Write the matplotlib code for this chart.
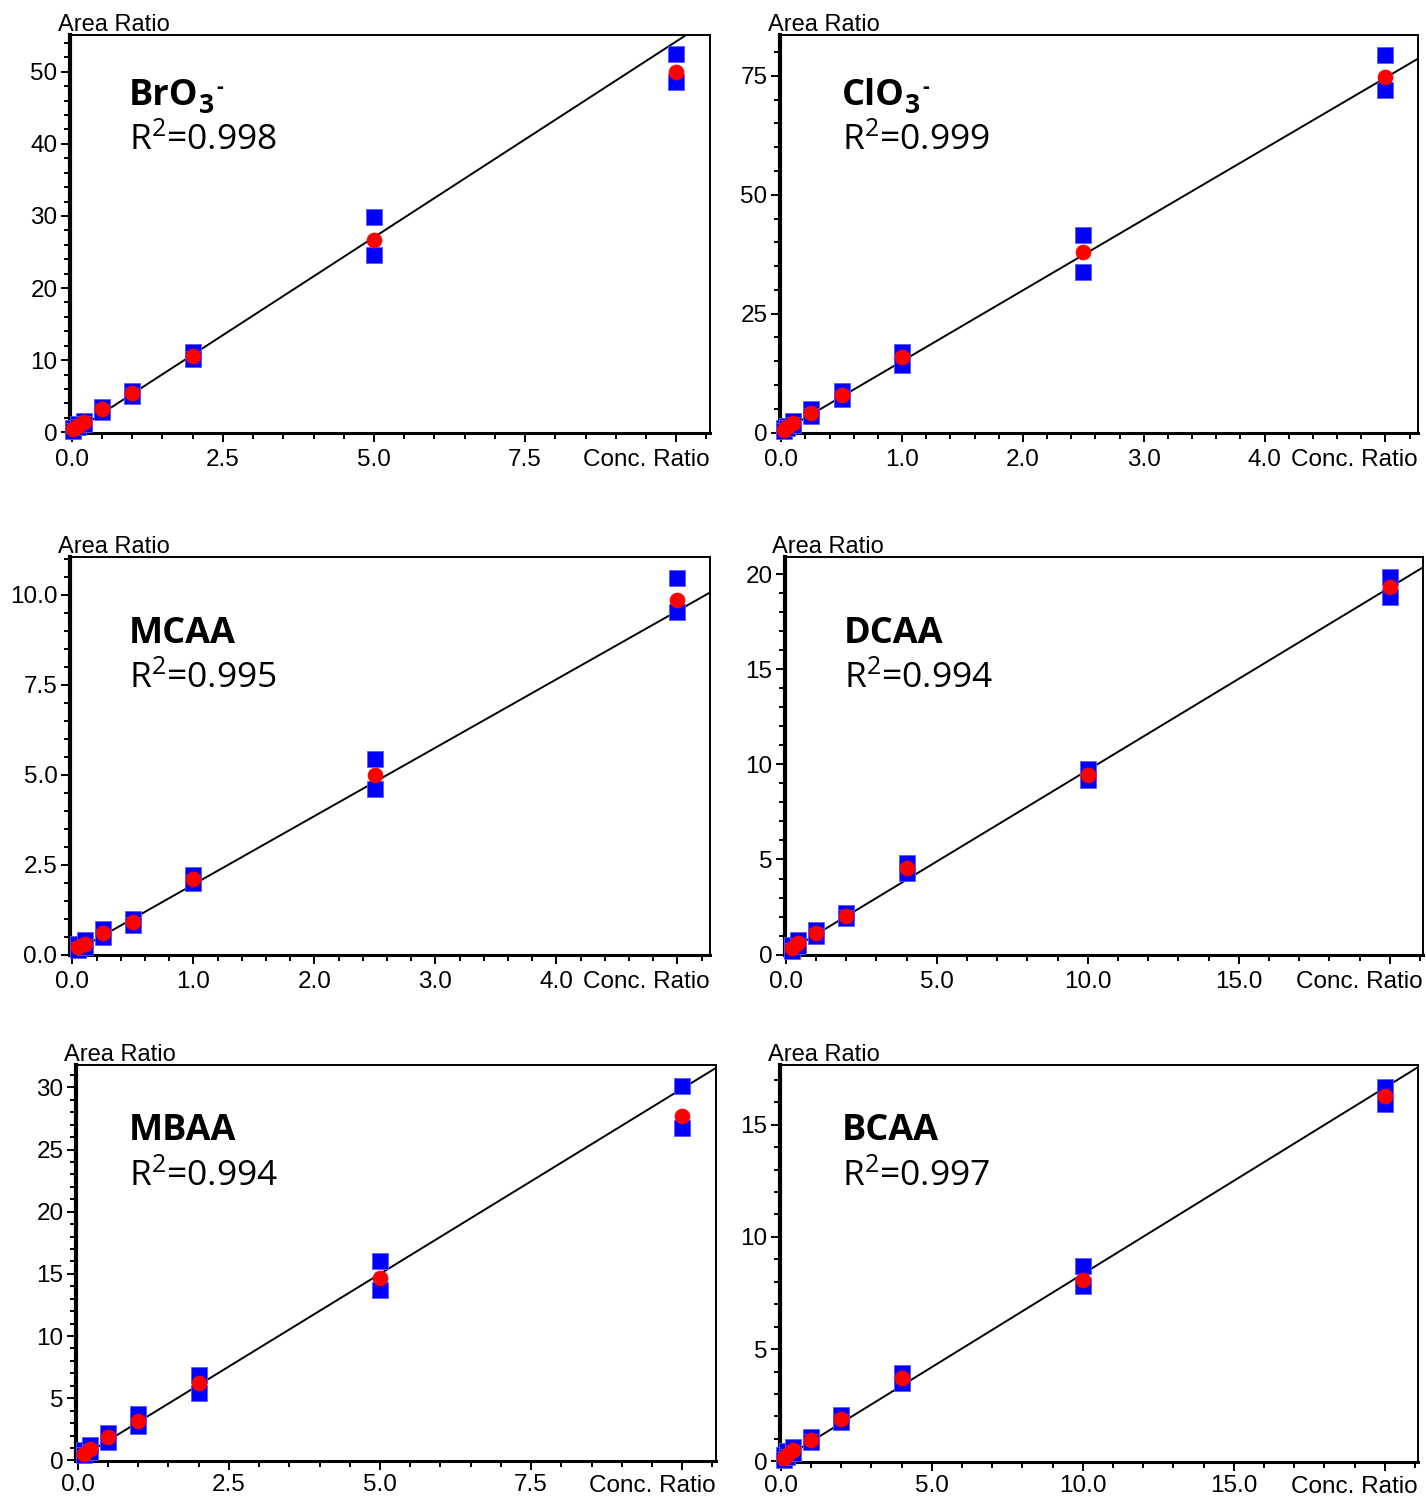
import matplotlib
matplotlib.use("Agg")
import matplotlib.pyplot as plt
from matplotlib.ticker import MultipleLocator, FixedLocator, FixedFormatter

plt.rcParams['font.family'] = ['Liberation Sans', 'DejaVu Sans']
plt.rcParams['mathtext.fontset'] = 'custom'
plt.rcParams['mathtext.rm'] = 'Open Sans'
plt.rcParams['mathtext.bf'] = 'Open Sans:bold'
plt.rcParams['mathtext.it'] = 'Open Sans:italic'

# ---------------- data ----------------
name_base = ["BrO", "ClO", "MCAA", "DCAA", "MBAA", "BCAA"]
name_sub = ["3", "3", "", "", "", ""]
name_sup = ["-", "-", "", "", "", ""]
r2_labels = ["0.998", "0.999", "0.995", "0.994", "0.994", "0.997"]

bro3_x = [0.02, 0.1, 0.2, 0.5, 1.0, 2.0, 5.0, 10.0]
bro3_mean = [0.4, 0.9, 1.4, 3.2, 5.4, 10.6, 26.7, 49.9]
bro3_hi = [0.6, 1.1, 1.6, 3.5, 5.7, 11.1, 29.8, 52.4]
bro3_lo = [0.2, 0.7, 1.2, 2.8, 5.1, 10.2, 24.6, 48.6]

clo3_x = [0.025, 0.05, 0.1, 0.25, 0.5, 1.0, 2.5, 5.0]
clo3_mean = [0.6, 1.1, 1.9, 4.2, 7.8, 15.8, 38.0, 74.8]
clo3_hi = [0.9, 1.4, 2.4, 5.0, 8.7, 17.0, 41.5, 79.3]
clo3_lo = [0.4, 0.9, 1.5, 3.5, 7.0, 14.3, 33.8, 72.0]

mcaa_x = [0.05, 0.1, 0.25, 0.5, 1.0, 2.5, 5.0]
mcaa_mean = [0.2, 0.3, 0.6, 0.92, 2.1, 5.0, 9.86]
mcaa_hi = [0.3, 0.4, 0.7, 1.0, 2.2, 5.45, 10.47]
mcaa_lo = [0.12, 0.22, 0.5, 0.82, 1.98, 4.6, 9.53]

dcaa_x = [0.2, 0.4, 1.0, 2.0, 4.0, 10.0, 20.0]
dcaa_mean = [0.35, 0.6, 1.15, 2.05, 4.55, 9.45, 19.3]
dcaa_hi = [0.5, 0.75, 1.3, 2.2, 4.8, 9.75, 19.85]
dcaa_lo = [0.2, 0.45, 1.0, 1.9, 4.3, 9.2, 18.8]

mbaa_x = [0.1, 0.2, 0.5, 1.0, 2.0, 5.0, 10.0]
mbaa_mean = [0.55, 0.9, 1.85, 3.2, 6.2, 14.7, 27.7]
mbaa_hi = [0.8, 1.2, 2.2, 3.7, 6.9, 16.0, 30.1]
mbaa_lo = [0.4, 0.7, 1.5, 2.8, 5.4, 13.7, 26.7]

bcaa_x = [0.1, 0.2, 0.4, 1.0, 2.0, 4.0, 10.0, 20.0]
bcaa_mean = [0.13, 0.3, 0.5, 0.95, 1.9, 3.72, 8.1, 16.3]
bcaa_hi = [0.3, 0.45, 0.65, 1.1, 2.05, 3.95, 8.7, 16.7]
bcaa_lo = [0.05, 0.2, 0.35, 0.85, 1.75, 3.5, 7.8, 15.9]

fit_slope = [5.43, 14.9, 1.9, 0.96, 2.98, 0.83]
fit_intercept = [-0.1, 0.1, 0.05, 0.1, 0.1, 0.05]

xtick_vals = [[0, 2.5, 5.0, 7.5, 10.0], [0, 1, 2, 3, 4, 5], [0, 1, 2, 3, 4, 5],
              [0, 5, 10, 15, 20], [0, 2.5, 5.0, 7.5, 10.0], [0, 5, 10, 15, 20]]
xtick_labels = [["0.0", "2.5", "5.0", "7.5", ""], ["0.0", "1.0", "2.0", "3.0", "4.0", ""],
                ["0.0", "1.0", "2.0", "3.0", "4.0", ""], ["0.0", "5.0", "10.0", "15.0", ""],
                ["0.0", "2.5", "5.0", "7.5", ""], ["0.0", "5.0", "10.0", "15.0", ""]]
ytick_vals = [[0, 10, 20, 30, 40, 50], [0, 25, 50, 75], [0, 2.5, 5.0, 7.5, 10.0],
              [0, 5, 10, 15, 20], [0, 5, 10, 15, 20, 25, 30], [0, 5, 10, 15]]
ytick_labels = [["0", "10", "20", "30", "40", "50"], ["0", "25", "50", "75"],
                ["0.0", "2.5", "5.0", "7.5", "10.0"], ["0", "5", "10", "15", "20"],
                ["0", "5", "10", "15", "20", "25", "30"], ["0", "5", "10", "15"]]

# ---------------- layout (styles) ----------------
W, H = 1426, 1498
boxes = [(70, 35, 710, 433), (780, 35, 1418, 433),
         (70, 557, 710, 955), (785, 557, 1423, 955),
         (76, 1065, 716, 1461), (780, 1065, 1418, 1462)]
xlims = [(-0.03, 10.56), (-0.01, 5.27), (-0.02, 5.27), (-0.03, 21.1), (-0.03, 10.56), (-0.03, 21.1)]
ylims = [(-0.1, 55.1), (-0.1, 83.6), (-0.01, 11.05), (-0.02, 20.9), (-0.05, 31.8), (-0.03, 17.66)]
xminor = [0.5, 0.2, 0.2, 1.0, 0.5, 1.0]
yminor = [2, 5, 0.5, 1, 1, 1]
xpad = [5, 5, 5, 5, 3.2, 3.2]
title_pos = [(129, 105, 150), (842, 105, 150), (129, 643, 688), (844, 643, 688),
             (129, 1140, 1185), (842, 1140, 1185)]

datasets = [(bro3_x, bro3_mean, bro3_hi, bro3_lo), (clo3_x, clo3_mean, clo3_hi, clo3_lo),
            (mcaa_x, mcaa_mean, mcaa_hi, mcaa_lo), (dcaa_x, dcaa_mean, dcaa_hi, dcaa_lo),
            (mbaa_x, mbaa_mean, mbaa_hi, mbaa_lo), (bcaa_x, bcaa_mean, bcaa_hi, bcaa_lo)]

fig = plt.figure(figsize=(W / 100, H / 100), dpi=100)
renderer = fig.canvas.get_renderer()

for i, (l, t, r, b) in enumerate(boxes):
    ax = fig.add_axes([l / W, 1 - b / H, (r - l) / W, (b - t) / H])
    x, mean, hi, lo = datasets[i]
    ax.axline((0, fit_intercept[i]), slope=fit_slope[i], color='black', lw=1.4, zorder=2)
    for reps in (hi, lo):
        ax.plot(x, reps, ls='none', marker='s', ms=11.6, mfc='#0000ff', mec='#5a5aff', mew=0.6,
                clip_on=False, zorder=3)
    ax.plot(x, mean, ls='none', marker='o', ms=10.8, mfc='#ff0000', mec='#ff0000', mew=0.5,
            clip_on=False, zorder=4)
    ax.set_xlim(*xlims[i])
    ax.set_ylim(*ylims[i])
    ax.xaxis.set_major_locator(FixedLocator(xtick_vals[i]))
    ax.xaxis.set_major_formatter(FixedFormatter(xtick_labels[i]))
    ax.yaxis.set_major_locator(FixedLocator(ytick_vals[i]))
    ax.yaxis.set_major_formatter(FixedFormatter(ytick_labels[i]))
    ax.xaxis.set_minor_locator(MultipleLocator(xminor[i]))
    ax.yaxis.set_minor_locator(MultipleLocator(yminor[i]))
    ax.tick_params(which='major', direction='out', length=6.5, width=1.4, labelsize=17.5,
                   top=False, right=False)
    ax.tick_params(axis='x', which='major', pad=xpad[i])
    ax.tick_params(axis='y', which='major', pad=2.5)
    ax.tick_params(which='minor', direction='out', length=4.5, width=1.4, top=False, right=False)
    ax.spines['left'].set_linewidth(3.0)
    ax.spines['bottom'].set_linewidth(2.2)
    ax.spines['top'].set_linewidth(1.4)
    ax.spines['right'].set_linewidth(1.4)
    ax.annotate("Area Ratio", xy=(0, 1), xycoords='axes fraction', xytext=(-9, 3),
                textcoords='offset points', ha='left', va='baseline', fontsize=17)
    ax.annotate("Conc. Ratio", xy=(1, 0), xycoords='axes fraction',
                xytext=(0, -(6.8 + xpad[i])), textcoords='offset points',
                ha='right', va='top', fontsize=17.5)

    # compound name with subscript / superscript
    tx, ty1, ty2 = title_pos[i]
    tb = fig.text(tx / W, 1 - ty1 / H, name_base[i], fontsize=26, weight='bold',
                  family='Open Sans', ha='left', va='baseline')
    if name_sub[i]:
        bb = tb.get_window_extent(renderer)
        ts = fig.text((bb.x1 + 0.5) / W, 1 - (ty1 + 8) / H, name_sub[i], fontsize=19,
                      weight='bold', family='Open Sans', ha='left', va='baseline')
        bb2 = ts.get_window_extent(renderer)
        fig.text((bb2.x1 + 2) / W, 1 - (ty1 - 12) / H, name_sup[i], fontsize=15,
                 weight='bold', family='Open Sans', ha='left', va='baseline')
    fig.text(tx / W, 1 - ty2 / H, r"R$^{\mathrm{2}}$=" + r2_labels[i], fontsize=25.5,
             ha='left', va='baseline', family='Open Sans')

fig.savefig("out.png", dpi=100)
